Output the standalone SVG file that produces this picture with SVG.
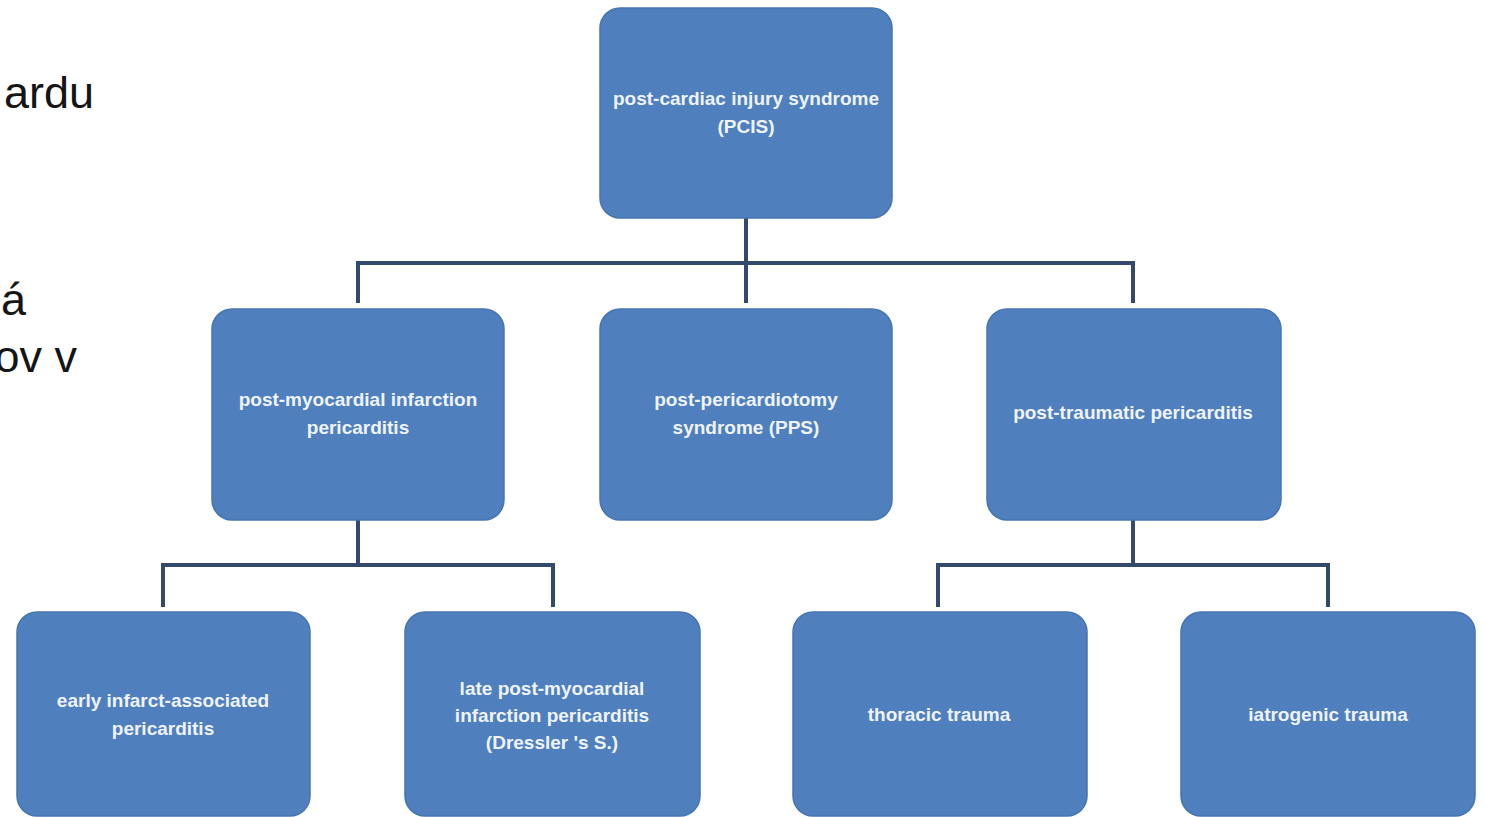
<svg xmlns="http://www.w3.org/2000/svg" width="1486" height="817" viewBox="0 0 1486 817">
<style>
.bg{fill:#ffffff}
.box{fill:#4f7fbd;stroke:#4676b2;stroke-width:1.5}
.lbl{font-family:"Liberation Sans",Arial,sans-serif;font-weight:bold;font-size:19px;fill:#eef3fa;text-anchor:middle}
.side{font-family:"Liberation Sans",Arial,sans-serif;font-size:45px;fill:#151515;text-anchor:end}
.con{fill:none;stroke:#34496e;stroke-width:4}
</style>
<rect class="bg" x="0" y="0" width="1486" height="817"/>
<g id="side-text">
<text class="side" x="94" y="108">ardu</text>
<text class="side" x="26" y="315">á</text>
<text class="side" x="77" y="372">ov v</text>
</g>
<g id="connectors">
<path class="con" d="M746 218 V303 M358 303 V263 H1133 V303"/>
<path class="con" d="M358 520 V565 M163 607 V565 H553 V607"/>
<path class="con" d="M1133 520 V565 M938 607 V565 H1328 V607"/>
</g>
<g id="pcis">
<rect class="box" x="600" y="8" width="292" height="210" rx="20"/>
<text class="lbl" x="746" y="105">post-cardiac injury syndrome</text>
<text class="lbl" x="746" y="133">(PCIS)</text>
</g>
<g id="post-mi">
<rect class="box" x="212" y="309" width="292" height="211" rx="20"/>
<text class="lbl" x="358" y="406">post-myocardial infarction</text>
<text class="lbl" x="358" y="434">pericarditis</text>
</g>
<g id="pps">
<rect class="box" x="600" y="309" width="292" height="211" rx="20"/>
<text class="lbl" x="746" y="406">post-pericardiotomy</text>
<text class="lbl" x="746" y="434">syndrome (PPS)</text>
</g>
<g id="post-trauma">
<rect class="box" x="987" y="309" width="294" height="211" rx="20"/>
<text class="lbl" x="1133" y="419">post-traumatic pericarditis</text>
</g>
<g id="early">
<rect class="box" x="17" y="612" width="293" height="204" rx="20"/>
<text class="lbl" x="163" y="707">early infarct-associated</text>
<text class="lbl" x="163" y="735">pericarditis</text>
</g>
<g id="late">
<rect class="box" x="405" y="612" width="295" height="204" rx="20"/>
<text class="lbl" x="552" y="695">late post-myocardial</text>
<text class="lbl" x="552" y="722">infarction pericarditis</text>
<text class="lbl" x="552" y="749">(Dressler 's S.)</text>
</g>
<g id="thoracic">
<rect class="box" x="793" y="612" width="294" height="204" rx="20"/>
<text class="lbl" x="939" y="721">thoracic trauma</text>
</g>
<g id="iatrogenic">
<rect class="box" x="1181" y="612" width="294" height="204" rx="20"/>
<text class="lbl" x="1328" y="721">iatrogenic trauma</text>
</g>
</svg>
